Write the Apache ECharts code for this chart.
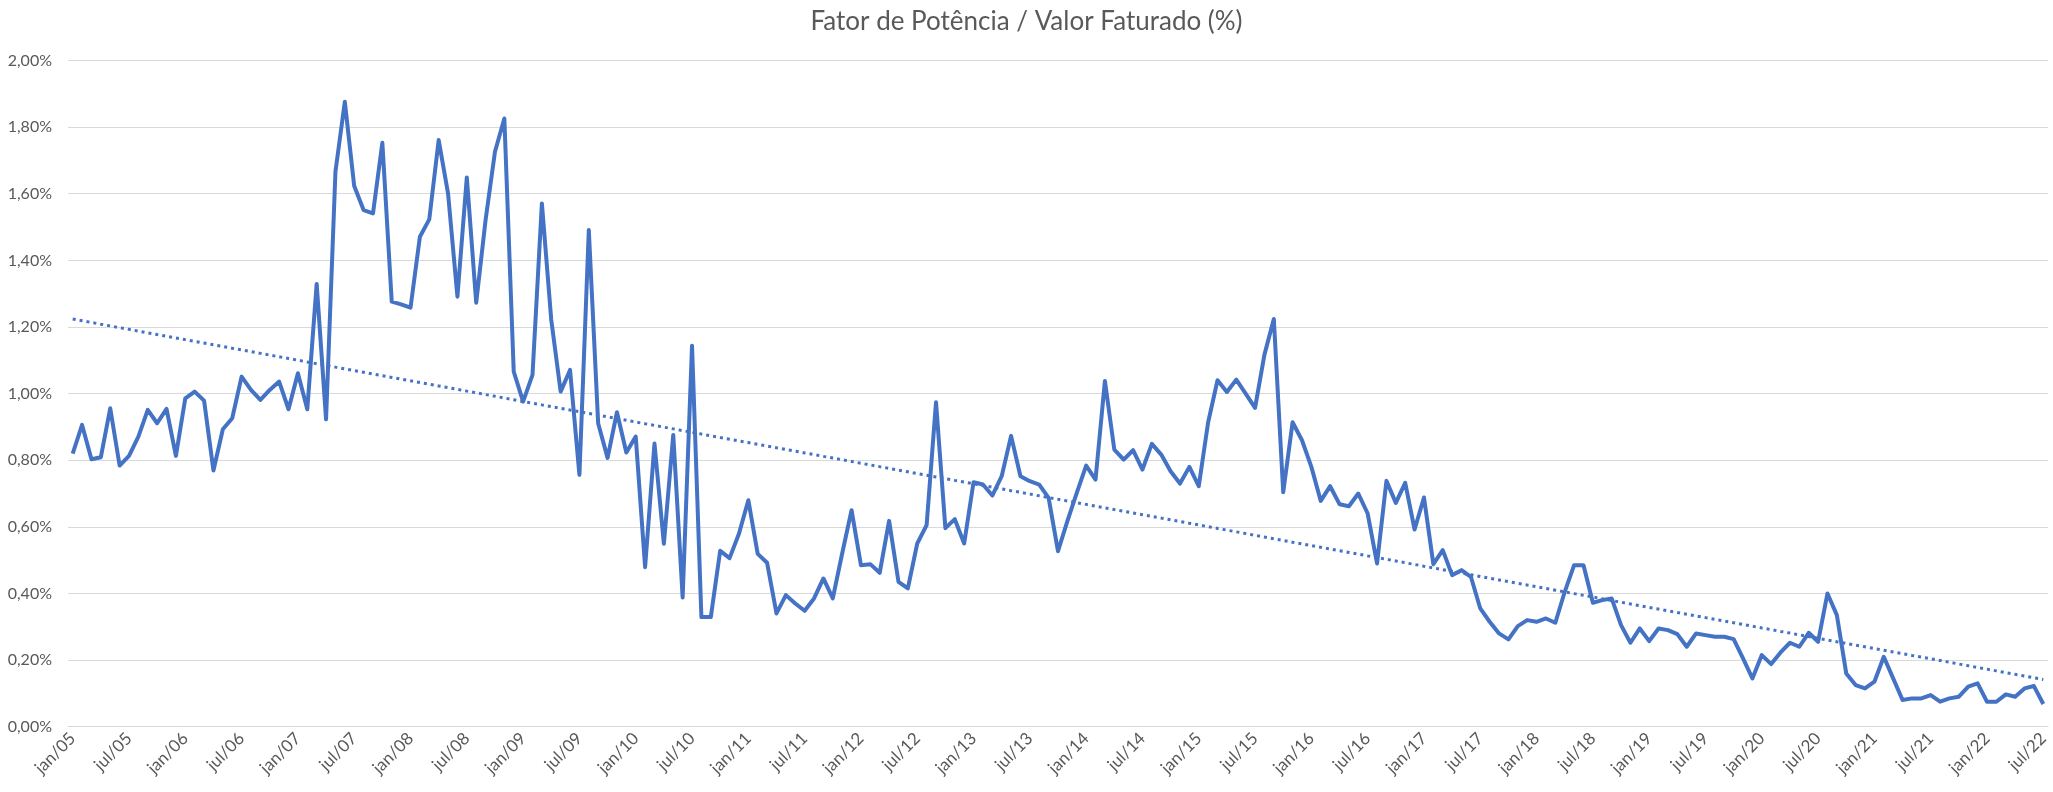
<!DOCTYPE html>
<html>
<head>
<meta charset="utf-8">
<script src="https://cdn.jsdelivr.net/npm/echarts@6/dist/echarts.min.js"></script>
<style>
html,body{margin:0;padding:0;background:#fff;}
#chart{width:2053px;height:792px;}
</style>
</head>
<body>
<div id="chart"></div>
<script>
const titleText = "Fator de Potência / Valor Faturado (%)";
const monthNames = ["jan","fev","mar","abr","mai","jun","jul","ago","set","out","nov","dez"];
const startYear = 2005;
const yTicks = [0, 0.2, 0.4, 0.6, 0.8, 1.0, 1.2, 1.4, 1.6, 1.8, 2.0];

// Fator de Potência / Valor Faturado (%), monthly jan/05 .. jul/22
const values = [
 0.820,0.906,0.803,0.809,0.956,0.784,0.813,0.871,0.951,0.911,0.954,0.813,
 0.986,1.006,0.979,0.769,0.893,0.926,1.051,1.011,0.981,1.011,1.036,0.953,
 1.061,0.953,1.329,0.923,1.666,1.876,1.623,1.551,1.541,1.753,1.276,1.268,
 1.258,1.471,1.523,1.761,1.601,1.291,1.649,1.273,1.521,1.726,1.826,1.066,
 0.976,1.056,1.571,1.221,1.006,1.071,0.756,1.491,0.910,0.807,0.944,0.823,
 0.871,0.479,0.850,0.549,0.876,0.388,1.144,0.329,0.329,0.528,0.506,0.579,
 0.680,0.519,0.492,0.340,0.395,0.370,0.348,0.385,0.445,0.385,0.520,0.650,
 0.485,0.488,0.462,0.618,0.435,0.415,0.550,0.605,0.974,0.596,0.623,0.550,
 0.734,0.727,0.694,0.752,0.873,0.752,0.737,0.727,0.687,0.527,0.617,0.702,
 0.784,0.742,1.038,0.832,0.802,0.830,0.772,0.849,0.817,0.767,0.730,0.780,
 0.722,0.914,1.040,1.005,1.042,1.000,0.957,1.117,1.224,0.704,0.914,0.860,
 0.780,0.678,0.722,0.668,0.662,0.700,0.640,0.490,0.738,0.672,0.732,0.592,
 0.688,0.488,0.530,0.455,0.470,0.450,0.355,0.315,0.280,0.262,0.302,0.320,
 0.315,0.325,0.312,0.405,0.485,0.485,0.372,0.380,0.385,0.305,0.252,0.295,
 0.257,0.295,0.290,0.278,0.240,0.280,0.275,0.270,0.270,0.263,0.205,0.145,
 0.215,0.188,0.223,0.252,0.240,0.282,0.255,0.400,0.335,0.160,0.125,0.115,
 0.135,0.210,0.145,0.080,0.085,0.085,0.095,0.075,0.085,0.090,0.120,0.130,
 0.075,0.075,0.097,0.090,0.115,0.122,0.068
];

// category labels (monthly)
const categories = values.map((_, i) => {
  const m = i % 12, y = startYear + Math.floor(i / 12);
  return monthNames[m] + "/" + String(y % 100).padStart(2, "0");
});

// linear trendline (least squares over the series)
const n = values.length;
let sx = 0, sy = 0, sxx = 0, sxy = 0;
values.forEach((v, i) => { sx += i; sy += v; sxx += i * i; sxy += i * v; });
const slope = (n * sxy - sx * sy) / (n * sxx - sx * sx);
const intercept = (sy - slope * sx) / n;
const trend = values.map((_, i) => +(intercept + slope * i).toFixed(4));

const FONT = "Lato";
const chart = echarts.init(document.getElementById("chart"), null, {renderer: "canvas"});
chart.setOption({
  animation: false,
  backgroundColor: "#ffffff",
  title: {
    text: titleText,
    left: "center",
    top: 4,
    textStyle: {fontFamily: FONT, fontSize: 26, fontWeight: "normal", color: "#595959"}
  },
  grid: {left: 68, right: 5, top: 60.5, bottom: 65.3, containLabel: false},
  xAxis: {
    type: "category",
    data: categories,
    boundaryGap: true,
    axisLine: {show: true, lineStyle: {color: "#d9d9d9", width: 1}},
    axisTick: {show: false},
    axisLabel: {
      interval: 5,
      rotate: 45,
      margin: 9,
      fontFamily: FONT,
      fontSize: 17,
      color: "#595959"
    },
    splitLine: {show: false}
  },
  yAxis: {
    type: "value",
    min: yTicks[0],
    max: yTicks[yTicks.length - 1],
    interval: 0.2,
    axisLine: {show: false},
    axisTick: {show: false},
    axisLabel: {
      margin: 16,
      fontFamily: FONT,
      fontSize: 16,
      color: "#595959",
      formatter: v => v.toFixed(2).replace(".", ",") + "%"
    },
    splitLine: {show: true, lineStyle: {color: "#d9d9d9", width: 1}}
  },
  series: [
    {
      name: "Fator de Potência / Valor Faturado",
      type: "line",
      data: values,
      symbol: "none",
      smooth: false,
      lineStyle: {color: "#4472C4", width: 4, join: "round"},
      z: 3
    },
    {
      name: "Linear",
      type: "line",
      data: trend,
      symbol: "none",
      lineStyle: {color: "#4472C4", width: 3, type: [3, 4]},
      z: 2
    }
  ]
});
</script>
</body>
</html>
